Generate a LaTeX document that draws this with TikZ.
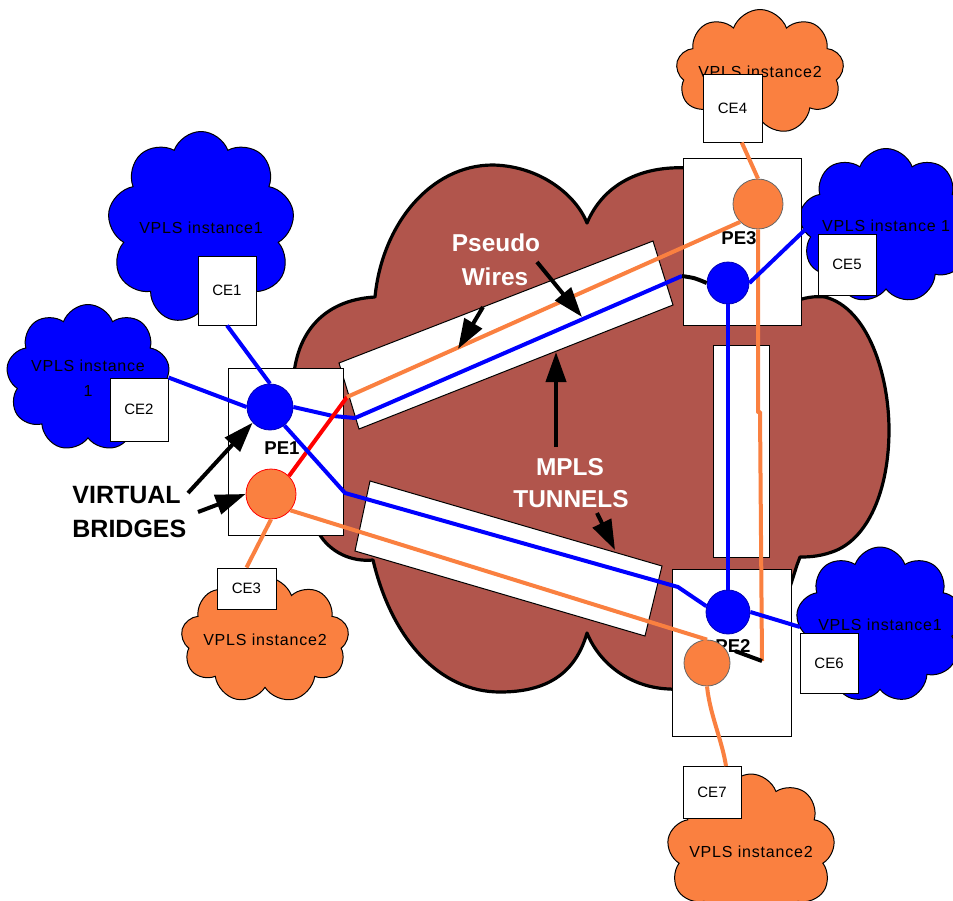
\documentclass[tikz,border=0pt]{standalone}
\usepackage{fontspec}
\setmainfont{Liberation Sans}
\newfontfamily\spacedfont[LetterSpace=5]{Liberation Sans}
\usetikzlibrary{shapes.symbols,arrows.meta}
\definecolor{mplsbrown}{RGB}{177,85,76}
\definecolor{vblue}{RGB}{0,0,255}
\definecolor{vorange}{RGB}{250,128,64}
\begin{document}
\begin{tikzpicture}[x=0.5pt,y=-0.5pt,
  cloudbase/.style={cloud, cloud puffs=9, cloud puff arc=140, cloud ignores aspect,
    draw=black, line width=0.5pt, inner sep=0pt, align=center,
    font=\spacedfont\fontsize{8}{10}\selectfont},
  bluecloud/.style={cloudbase, fill=vblue},
  orangecloud/.style={cloudbase, fill=vorange},
  cebox/.style={draw=black, line width=0.5pt, fill=white, inner sep=0pt,
    font=\fontsize{7.5}{9}\selectfont},
  pebox/.style={draw=black, line width=0.5pt, fill=white, inner sep=0pt,
    minimum height=83.5pt},
  pelbl/.style={inner sep=0pt, font=\bfseries\fontsize{9.3}{11}\selectfont},
  bcirc/.style={circle, fill=vblue, draw=vblue!70!black, line width=0.4pt, inner sep=0pt},
  ocirc/.style={circle, fill=vorange, draw=black!60, line width=0.4pt, inner sep=0pt},
  bline/.style={draw=vblue, line width=2pt, line join=round},
  oline/.style={draw=vorange, line width=2pt, line join=round},
  tunnel/.style={draw=black, line width=0.5pt, fill=white},
  callout/.style={-{Triangle[length=15pt,width=10pt]}, line width=2pt, black},
  whitelbl/.style={text=white, inner sep=0pt, font=\bfseries\fontsize{12.2}{14}\selectfont},
  blacklbl/.style={text=black, inner sep=0pt, font=\bfseries\fontsize{12.5}{14}\selectfont}
]
\useasboundingbox (0,0) rectangle (953,900);
\clip (0,0) rectangle (953,900);
\fill[white] (0,0) rectangle (953,900);

% MPLS core cloud
\path[draw=black, line width=1.6pt, fill=mplsbrown, line join=round]
 (293,390) .. controls (293,335) and (322,300) .. (375,297)
 .. controls (382,225) and (430,165) .. (493,165)
 .. controls (540,166) and (576,195) .. (587,223)
 .. controls (603,185) and (640,165) .. (690,168)
 -- (790,303)
 .. controls (805,297) and (815,296) .. (825,297)
 .. controls (868,308) and (889,375) .. (889,430)
 .. controls (889,490) and (868,540) .. (832,552)
 .. controls (818,557) and (806,557) .. (800,557)
 -- (797,565) -- (789,590) -- (780,650) -- (680,690) -- (670,689)
 .. controls (632,688) and (600,665) .. (587,633)
 .. controls (575,675) and (545,692) .. (500,692)
 .. controls (440,692) and (392,640) .. (373,560)
 .. controls (352,562) and (330,553) .. (318,532)
 -- (300,480) -- cycle;

% customer clouds
\node[bluecloud, minimum width=93.5pt, minimum height=96.5pt] (cl1) at (201,228) {VPLS instance1};
\node[bluecloud, minimum width=78.5pt, minimum height=73.5pt, font=\spacedfont\fontsize{8}{12.5}\selectfont] (cl2) at (88,378) {VPLS instance\\1};
\node[orangecloud, minimum width=77.5pt, minimum height=63pt] (cl3) at (265,640) {VPLS instance2};
\node[orangecloud, minimum width=77.5pt, minimum height=62.5pt] (cl4) at (760,72) {VPLS instance2};
\node[bluecloud, minimum width=78.5pt, minimum height=77.5pt] (cl5) at (886,226) {VPLS instance 1};
\node[bluecloud, minimum width=82.5pt, minimum height=78pt] (cl6) at (880,625) {VPLS instance1};
\node[orangecloud, minimum width=79pt, minimum height=78pt] (cl7) at (751,852) {VPLS instance2};

% tunnels
\draw[tunnel] (339,363) -- (653,241) -- (673,305) -- (359,429) -- cycle;
\draw[tunnel] (370,481) -- (662,566) -- (645,636) -- (355,551) -- cycle;
\draw[tunnel] (713,345) rectangle (769,557);

% PE boxes
\node[pebox, minimum width=57.5pt] (PE1box) at (285.5,451.5) {};
\node[pebox, minimum width=59pt] (PE3box) at (742,241.5) {};
\node[pebox, minimum width=59.5pt] (PE2box) at (731.5,652.5) {};

% CE boxes
\node[cebox, minimum width=29pt, minimum height=34.5pt] (CE1) at (227,290.5) {CE1};
\node[cebox, minimum width=29pt, minimum height=31.5pt] (CE2) at (139,409.5) {CE2};
\node[cebox, minimum width=29.5pt, minimum height=20.5pt] (CE3) at (246.5,588.5) {CE3};
\node[cebox, minimum width=29.5pt, minimum height=34pt] (CE4) at (732.5,108) {CE4};
\node[cebox, minimum width=29pt, minimum height=30.5pt] (CE5) at (847,264.5) {CE5};
\node[cebox, minimum width=29pt, minimum height=30pt] (CE6) at (829,663) {CE6};
\node[cebox, minimum width=29pt, minimum height=26pt] (CE7) at (712,792) {CE7};

% PE labels
\node[pelbl] (PE1lbl) at (282,448) {PE1};
\node[pelbl] (PE3lbl) at (739,238) {PE3};
\node[pelbl] (PE2lbl) at (733,646) {PE2};

% virtual bridges
\node[bcirc, minimum size=23pt] (PE1b) at (270,407) {};
\node[ocirc, minimum size=25pt, draw=red] (PE1o) at (271,494) {};
\node[ocirc, minimum size=25pt] (PE3o) at (758,204) {};
\node[bcirc, minimum size=21pt] (PE3b) at (728,283) {};
\node[bcirc, minimum size=22pt] (PE2b) at (728,612) {};
\node[ocirc, minimum size=23pt] (PE2o) at (707,663) {};

% bend points
\coordinate (w1) at (333,416);
\coordinate (w2) at (355,418);
\coordinate (w3) at (682,276);
\coordinate (r1) at (347,397);
\coordinate (b1) at (345,493);
\coordinate (b2) at (678,587);
\coordinate (o1) at (758,412);
\coordinate (o2) at (760,412);
\coordinate (o3) at (762,661);
\coordinate (o4) at (735,651);
\coordinate (c5) at (810,225);
\coordinate (c6) at (800,627);
\coordinate (c7) at (726,766);

% connectors
\draw[bline] (CE1.south) -- (PE1b.north);
\draw[bline] (CE2.north east) -- (PE1b.west);
\draw[bline] (PE1b.east) -- (w1) -- (w2) -- (w3);
\draw[black, line width=2pt] (w3) .. controls (695,278) .. (PE3b.west);
\draw[red, line width=2pt] (PE1o.45) -- (r1);
\draw[oline] (r1) -- (PE3o.south west);
\draw[bline] (PE1b.-52) -- (b1) -- (b2) -- (PE2b.165);
\draw[oline] (PE1o.-40) -- (PE2o.north);
\draw[bline] (PE3b.south) -- (PE2b.north);
\draw[oline] (PE3o.south) -- (o1) -- (o2) -- (o3);
\draw[black, line width=2pt] (o3) -- (o4);
\draw[oline] (CE4.-75) -- (PE3o.north);
\draw[bline] (PE3b.east) -- (c5);
\draw[bline] (PE2b.east) -- (c6);
\draw[oline] (CE3.north) -- (PE1o.south);
\draw[oline] (PE2o.south) .. controls (710,715) and (722,740) .. (c7);

% annotations
\node[whitelbl, anchor=base] (pw1) at (496,251) {Pseudo};
\node[whitelbl, anchor=base] (pw2) at (495,285) {Wires};
\node[whitelbl, anchor=base] (mt1) at (570,475) {MPLS};
\node[whitelbl, anchor=base] (mt2) at (571,507) {TUNNELS};
\node[blacklbl, anchor=base west] (vb1) at (72,503) {VIRTUAL};
\node[blacklbl, anchor=base west] (vb2) at (72,537) {BRIDGES};

\coordinate (a1s) at (188,493);
\coordinate (a2s) at (198,512);
\coordinate (a3s) at (483,307);
\coordinate (a3e) at (458,349);
\coordinate (a4s) at (537,262);
\coordinate (a4e) at (582,317);
\coordinate (a5s) at (556,447);
\coordinate (a5e) at (556,352);
\coordinate (a6s) at (597,513);
\coordinate (a6e) at (615,550);

\draw[callout] (a1s) -- (PE1b.222);
\draw[callout] (a2s) -- (PE1o.west);
\draw[callout] (a3s) -- (a3e);
\draw[callout] (a4s) -- (a4e);
\draw[callout] (a5s) -- (a5e);
\draw[callout] (a6s) -- (a6e);
\end{tikzpicture}
\end{document}
